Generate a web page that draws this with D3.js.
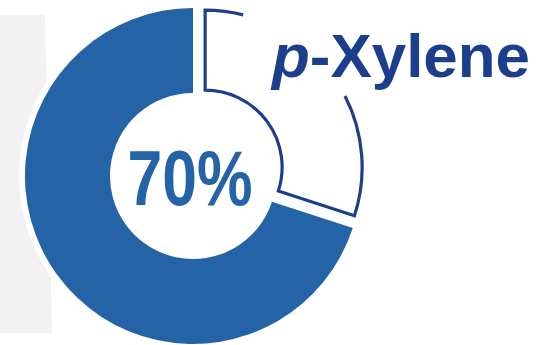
<!DOCTYPE html>
<html>
<head>
<meta charset="utf-8">
<script src="https://cdn.jsdelivr.net/npm/d3@7"></script>
<style>
  body { margin: 0; background: #fff; }
  svg { display: block; }
</style>
</head>
<body>
<svg id="chart" width="551" height="345"></svg>
<script>
// - - - - - - - - - -
// data
// - - - - - - - - - -
const categories = ['p-Xylene', 'Other'];
const shares = [30, 70];
const centerLabel = '70%';

// - - - - - - - - - -
const svg = d3.select('#chart');
const W = 551, H = 345;

const cx = 193, cy = 176;
const outerR = 168, innerR = 83;

const blue = '#2563a7';
const navy = '#1b3f8b';

// gray panel behind the ring
svg.append('path')
    .attr('d', 'M0,15 L45,15 L52,333 L0,333 Z')
    .attr('fill', '#f2f2f2');

const pie = d3.pie().sort(null).value(d => d);
const slices = pie(shares);

const arc = d3.arc().innerRadius(innerR).outerRadius(outerR);

const g = svg.append('g').attr('transform', `translate(${cx},${cy})`);

// white halo around the ring
g.append('circle')
    .attr('r', outerR + 6)
    .attr('fill', '#fff');

// filled share (Other => the 70% part)
g.append('path')
    .attr('d', arc(slices[1]))
    .attr('fill', blue);

// outlined, pulled-out share with a break where the label sits
const s = slices[0];
const mid = (s.startAngle + s.endAngle) / 2;
const pull = 15;
const ox = pull * Math.sin(mid), oy = -pull * Math.cos(mid);
const R2 = 157, r2 = 77;
const gapFrom = 14 * Math.PI / 180, gapTo = 63 * Math.PI / 180;
const q = a => a - Math.PI / 2;

const p = d3.path();
p.moveTo(R2 * Math.cos(q(gapTo)), R2 * Math.sin(q(gapTo)));
p.arc(0, 0, R2, q(gapTo), q(s.endAngle));
p.lineTo(r2 * Math.cos(q(s.endAngle)), r2 * Math.sin(q(s.endAngle)));
p.arc(0, 0, r2, q(s.endAngle), q(s.startAngle), true);
p.lineTo(R2 * Math.cos(q(s.startAngle)), R2 * Math.sin(q(s.startAngle)));
p.arc(0, 0, R2, q(s.startAngle), q(gapFrom));

g.append('path')
    .attr('transform', `translate(${ox},${oy})`)
    .attr('d', p.toString())
    .attr('fill', 'none')
    .attr('stroke', navy)
    .attr('stroke-width', 3.2)
    .attr('stroke-linejoin', 'miter');

// center label
g.append('text')
    .attr('x', -3)
    .attr('y', 29)
    .attr('text-anchor', 'middle')
    .attr('font-family', 'Liberation Sans, Arial, sans-serif')
    .attr('font-weight', 700)
    .attr('font-size', 77)
    .attr('textLength', 125)
    .attr('lengthAdjust', 'spacingAndGlyphs')
    .attr('fill', blue)
    .text(centerLabel);

// series label
const name = categories[0];
const label = svg.append('text')
    .attr('x', 272)
    .attr('y', 77)
    .attr('font-family', 'Liberation Sans, Arial, sans-serif')
    .attr('font-weight', 700)
    .attr('font-size', 61)
    .attr('textLength', 258)
    .attr('lengthAdjust', 'spacingAndGlyphs')
    .attr('fill', navy);
label.append('tspan').attr('font-style', 'italic').text(name.slice(0, 1));
label.append('tspan').text(name.slice(1));
</script>
</body>
</html>
